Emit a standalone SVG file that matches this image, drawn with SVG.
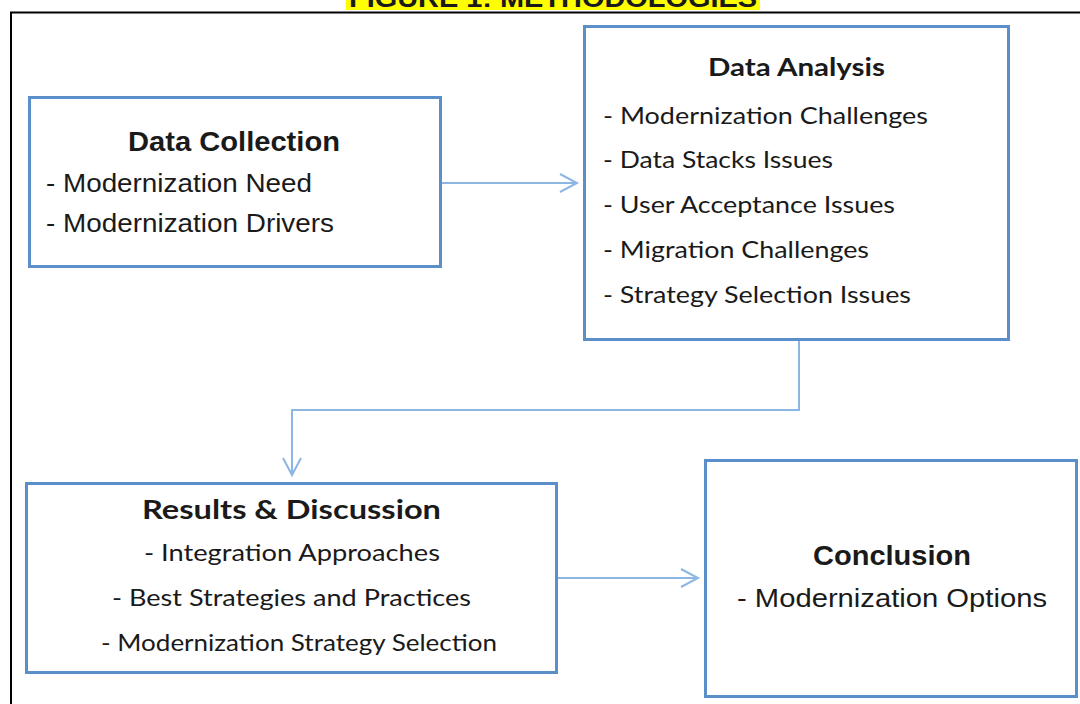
<svg xmlns="http://www.w3.org/2000/svg" width="1080" height="704" viewBox="0 0 1080 704">
  <style>
    .box { fill: #ffffff; stroke: #5b8fc9; stroke-width: 3; }
    .link { fill: none; stroke: #8db6e3; stroke-width: 2; }
    .head { fill: none; stroke: #8db6e3; stroke-width: 2; stroke-linejoin: miter; }
    .arial { font-family: "Liberation Sans", Arial, sans-serif; fill: #1a1a1a; }
    .cal { font-family: Lato, "Open Sans", sans-serif; fill: #1a1a1a; }
    .b { font-weight: bold; }
  </style>

  <rect x="0" y="0" width="1080" height="704" fill="#ffffff"/>

  <!-- caption strip, clipped at the top edge -->
  <g id="caption">
    <rect x="346" y="0" width="414" height="10" fill="#ffff00"/>
    <text class="arial b" x="349" y="7" font-size="26" fill="#000" textLength="408" lengthAdjust="spacingAndGlyphs">FIGURE 1: METHODOLOGIES</text>
  </g>

  <!-- frame -->
  <g id="frame" stroke="#000" stroke-width="2" fill="none">
    <path d="M11,704 V12.5 H1080"/>
  </g>

  <!-- connectors -->
  <g id="connectors">
    <path class="link" d="M442,183 H576"/>
    <path class="head" d="M560,174 L577,183 L560,192"/>

    <path class="link" d="M799,341 V410 H292 V474"/>
    <path class="head" d="M283,458 L292,475 L301,458"/>

    <path class="link" d="M557,578 H697"/>
    <path class="head" d="M681,569 L698,578 L681,587"/>
  </g>

  <g id="data-collection">
    <rect class="box" x="29.5" y="97.5" width="411" height="169"/>
    <text class="arial b" x="128" y="151" font-size="27" textLength="212" lengthAdjust="spacingAndGlyphs">Data Collection</text>
    <text class="arial" x="46" y="192" font-size="25" textLength="266" lengthAdjust="spacingAndGlyphs">- Modernization Need</text>
    <text class="arial" x="46" y="232" font-size="25" textLength="288" lengthAdjust="spacingAndGlyphs">- Modernization Drivers</text>
  </g>

  <g id="data-analysis">
    <rect class="box" x="584.5" y="26.5" width="424" height="313"/>
    <text class="cal b" x="708" y="76" font-size="25" textLength="177" lengthAdjust="spacingAndGlyphs">Data Analysis</text>
    <text class="cal" x="603" y="124" font-size="24" textLength="325" lengthAdjust="spacingAndGlyphs">- Modernization Challenges</text>
    <text class="cal" x="603" y="168" font-size="24" textLength="230" lengthAdjust="spacingAndGlyphs">- Data Stacks Issues</text>
    <text class="cal" x="603" y="213" font-size="24" textLength="292" lengthAdjust="spacingAndGlyphs">- User Acceptance Issues</text>
    <text class="cal" x="603" y="258" font-size="24" textLength="266" lengthAdjust="spacingAndGlyphs">- Migration Challenges</text>
    <text class="cal" x="603" y="303" font-size="24" textLength="308" lengthAdjust="spacingAndGlyphs">- Strategy Selection Issues</text>
  </g>

  <g id="results-discussion">
    <rect class="box" x="26.5" y="483.5" width="530" height="189"/>
    <text class="cal b" x="142" y="519" font-size="26" textLength="299" lengthAdjust="spacingAndGlyphs">Results &amp; Discussion</text>
    <text class="cal" x="144" y="561" font-size="24" textLength="296" lengthAdjust="spacingAndGlyphs">- Integration Approaches</text>
    <text class="cal" x="112" y="606" font-size="24" textLength="359" lengthAdjust="spacingAndGlyphs">- Best Strategies and Practices</text>
    <text class="cal" x="101" y="651" font-size="24" textLength="396" lengthAdjust="spacingAndGlyphs">- Modernization Strategy Selection</text>
  </g>

  <g id="conclusion">
    <rect class="box" x="705.5" y="460.5" width="371" height="236"/>
    <text class="arial b" x="813" y="565" font-size="27" textLength="158" lengthAdjust="spacingAndGlyphs">Conclusion</text>
    <text class="arial" x="737" y="607" font-size="25" textLength="310" lengthAdjust="spacingAndGlyphs">- Modernization Options</text>
  </g>
</svg>
